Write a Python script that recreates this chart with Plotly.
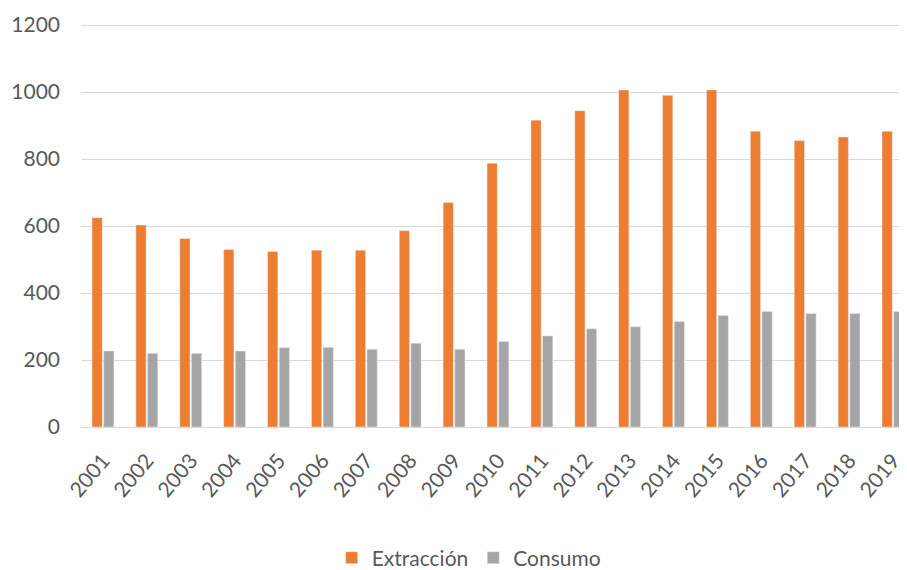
import plotly.graph_objects as go

years = [str(y) for y in range(2001, 2020)]
extraccion = [625, 603, 563, 530, 524, 528, 528, 586, 670, 787, 916, 944, 1006, 990, 1006, 883, 855, 866, 883]
consumo = [227, 220, 220, 227, 237, 238, 232, 250, 232, 255, 272, 293, 299, 315, 333, 345, 339, 339, 345]

FONT = "Lato"
TXT = "#595959"

fig = go.Figure()
fig.add_trace(go.Bar(name="Extracción", x=years, y=extraccion, marker_color="#ED7D31"))
fig.add_trace(go.Bar(name="Consumo", x=years, y=consumo, marker_color="#A5A5A5"))

fig.update_layout(
    width=907, height=570,
    margin=dict(l=73, r=8, t=14, b=151, autoexpand=False),
    paper_bgcolor="white", plot_bgcolor="white",
    barmode="group", bargap=0.47, bargroupgap=0.12,
    font=dict(family=FONT, color=TXT, size=20),
    showlegend=True,
    legend=dict(orientation="h", x=0.47, xanchor="center", y=0.035, yanchor="middle",
                yref="container",
                font=dict(size=21, color=TXT), itemwidth=30, traceorder="normal"),
)
fig.update_xaxes(range=[-0.5, 18.32], tickangle=-50, showgrid=False, ticks="",
                 showline=True, linecolor="#D9D9D9", linewidth=1, automargin=False,
                 ticklabelstandoff=12,
                 tickfont=dict(size=21, color=TXT, family=FONT))
fig.update_yaxes(range=[0, 1209], tickvals=[0, 200, 400, 600, 800, 1000, 1200],
                 showgrid=True, gridcolor="#D9D9D9", gridwidth=1, zeroline=False,
                 showline=False, ticks="", ticklabelstandoff=20, automargin=False,
                 tickfont=dict(size=21, color=TXT, family=FONT))

fig.write_html("out.html")
